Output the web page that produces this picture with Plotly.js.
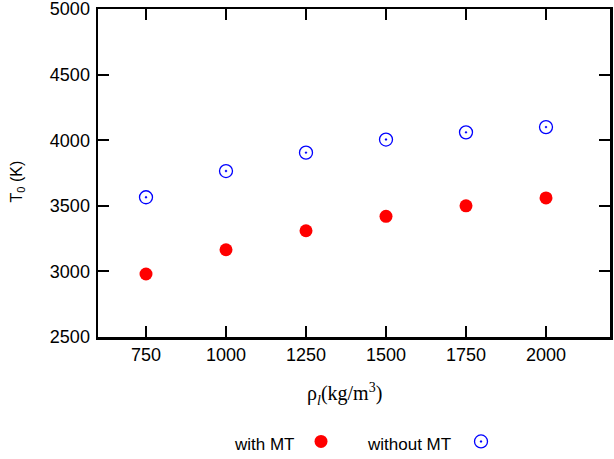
<!DOCTYPE html>
<html>
<head>
<meta charset="utf-8">
<script src="https://cdn.plot.ly/plotly-3.0.1.min.js"></script>
<style>html,body{margin:0;padding:0;background:#fff;}#chart{width:614px;height:459px;}</style>
</head>
<body>
<div id="chart"></div>
<script>
const density = [750, 1000, 1250, 1500, 1750, 2000];
const withMT = [2980, 3165, 3310, 3420, 3500, 3560];
const withoutMT = [3565, 3765, 3905, 4005, 4060, 4100];
const xTicks = [750, 1000, 1250, 1500, 1750, 2000];
const yTicks = [2500, 3000, 3500, 4000, 4500, 5000];
const seriesNames = ["with MT", "without MT"];
const xTitle = "ρ<sub><i>l</i></sub>(kg/m<sup>3</sup>)";
const yTitle = "T<sub>0</sub> (K)";

const sans = "Liberation Sans, Arial, sans-serif";
const serif = "Liberation Serif, Times New Roman, serif";

const traces = [
  {x: density, y: withMT, type: "scatter", mode: "markers", name: " ", legend: "legend",
   marker: {symbol: "circle", size: 13, color: "#ff0000"}},
  {x: density, y: withoutMT, type: "scatter", mode: "markers", name: " ", legend: "legend2",
   marker: {symbol: "circle-open-dot", size: 13, color: "#0000ff", line: {width: 1.3}}}
];

const axisCommon = {
  showline: true, linecolor: "#000", linewidth: 2.5, mirror: "ticks",
  ticks: "inside", ticklen: 11, tickwidth: 2, tickcolor: "#000",
  showgrid: false, zeroline: false, ticklabeloverflow: "allow",
  tickfont: {family: sans, size: 18, color: "#000"}
};

const legendCommon = {orientation: "h", xanchor: "left", y: -0.3145, yanchor: "middle",
  font: {family: sans, size: 4}, bgcolor: "rgba(0,0,0,0)", borderwidth: 0};

const layout = {
  width: 614, height: 459,
  margin: {l: 98, r: 4, t: 9, b: 121},
  paper_bgcolor: "#fff", plot_bgcolor: "#fff",
  showlegend: true,
  legend: Object.assign({}, legendCommon, {x: 0.3965}),
  legend2: Object.assign({}, legendCommon, {x: 0.709}),
  xaxis: Object.assign({}, axisCommon, {
    range: [600, 2200], tickvals: xTicks, ticktext: xTicks.map(String)
  }),
  yaxis: Object.assign({}, axisCommon, {
    range: [2500, 5000], tickvals: yTicks, ticktext: yTicks.map(String), ticklabelstandoff: 2
  }),
  annotations: [
    {text: xTitle, xref: "paper", yref: "paper", x: 0.4805, y: -0.174, xanchor: "center", yanchor: "middle",
     showarrow: false, font: {family: serif, size: 20, color: "#000"}},
    {text: yTitle, xref: "paper", yref: "paper", x: -0.157, y: 0.473, xanchor: "center", yanchor: "middle",
     textangle: -90, showarrow: false, font: {family: sans, size: 16, color: "#000"}},
    {text: seriesNames[0], xref: "paper", yref: "paper", x: 0.3887, y: -0.328, xanchor: "right", yanchor: "middle",
     showarrow: false, font: {family: sans, size: 17, color: "#000"}},
    {text: seriesNames[1], xref: "paper", yref: "paper", x: 0.6934, y: -0.328, xanchor: "right", yanchor: "middle",
     showarrow: false, font: {family: sans, size: 17, color: "#000"}}
  ]
};

Plotly.newPlot("chart", traces, layout, {displayModeBar: false, staticPlot: true});
</script>
</body>
</html>
